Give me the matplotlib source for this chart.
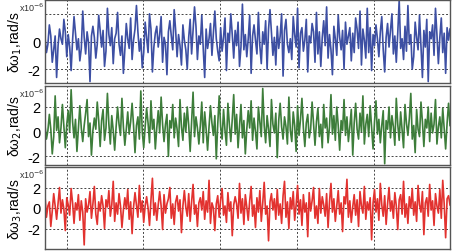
import numpy as np
import matplotlib.pyplot as plt

plt.rcParams['font.family'] = ['Liberation Sans', 'DejaVu Sans']

# ---------------- DATA (units of 1e-6 rad/s) ---------------- #

w1 = [0.3, -0.8, -0.2, 1.2, 0.4, -1.5, -0.6, 0.4, -2.6, -0.3, 0.9, 0.2, -0.2, 1.6, 0.7, -1.1, 0.5, -0.4, -2.1, 0.1,
      1.8, 0.6, -0.6, 0.2, -1.4, -0.5, 2.2, 0.3, -0.9, 0.7, -0.1, -2.9, 0.4, 1.1, 0.3, -1.2, -0.2, 1.9, 0.8, -0.4,
      0.8, -1.8, -0.7, 2.4, 0.5, -0.3, 1.0, -1.6, 0.2, 0.6, 2.1, -0.2, -1.0, 0.4, -2.3, -0.6, 1.3, 0.2, -0.5, 1.7,
      -1.3, 0.1, 0.9, 2.6, 0.7, -0.7, 0.2, -1.9, -0.8, 1.4, 0.3, -0.8, 2.0, 0.9, -2.2, -0.4, 0.6, 1.1, -0.4, 0.5,
      1.8, -1.5, 0.3, -0.2, -2.4, 0.7, 1.5, 0.4, -0.6, 2.3, 0.8, -1.1, 0.5, -0.3, -1.7, 1.2, 0.1, -0.6, -2.0, 0.3,
      1.6, -0.9, 0.8, 2.5, 1.1, -1.3, 0.4, -0.2, 1.9, -0.5, -2.6, 0.9, -0.5, 0.2, 1.3, -1.0, 0.6, 2.2, 0.2, -0.7,
      -1.4, 1.0, -0.7, 0.3, 1.7, -2.1, 0.6, 0.0, 2.0, 0.5, -1.2, 0.8, -0.3, 1.4, -1.8, -0.4, 2.7, -0.6, 0.5, -1.1,
      0.2, 1.9, -2.3, 0.4, 1.2, 0.1, -0.9, 2.1, -0.3, -1.6, 0.7, -0.2, 1.5, -2.0, 0.9, 2.3, 0.6, -1.0, 0.3, -1.7,
      1.1, -0.5, 0.4, 2.0, -2.5, 0.8, 1.6, -0.2, -0.8, 0.2, -1.3, 1.8, 0.5, -0.4, 2.4, -1.9, 0.6, 1.0, -0.7, 0.1,
      1.6, -2.2, 0.4, -0.1, 1.3, 0.7, -1.5, 2.1, -0.9, 0.7, -1.8, 0.3, 1.5, -0.3, 2.5, -1.2, 0.5, -0.6, -2.4, 1.1,
      0.2, -1.0, 1.9, 0.3, -0.6, 0.8, -2.0, 1.4, -0.2, 0.4, 1.0, -1.4, 0.6, -0.8, 1.7, 0.9, -0.5, 2.2, -1.7, 0.9,
      0.1, -1.2, 2.4, -0.8, 1.0, -2.1, 0.5, -0.3, 1.2, 0.2, -1.1, 0.7, 1.8, -0.6, -2.2, 0.3, 1.3, -0.4, 0.8, 2.0,
      -0.9, 0.4, -1.5, 0.6, 3.0, -0.5, 0.2, -1.3, 1.1, -0.7, 2.6, -0.2, 0.5, -2.0, -1.1, 1.4, 0.3, -0.6, 1.9, -0.3,
      -2.6, 0.8, -0.4, 1.6, -2.9, 0.7, 0.2, 1.2, -1.0, 2.4, 0.5, -1.6, 0.3, 1.7, -0.8, 0.6, -2.3, 1.0, 0.1, 0.9]

w2 = [0.5, -0.6, 0.1, 1.4, 0.2, -1.8, -0.4, 2.9, 0.1, 1.2, -0.9, 0.3, 2.2, 0.4, -1.3, 0.6, 1.7, 0.0, 3.4, 0.8,
      -0.5, 1.0, -1.6, 0.2, 2.1, 0.3, -0.8, 0.5, 1.5, 2.6, -0.4, 0.7, -1.9, 0.1, 1.1, 0.2, 2.4, 0.9, -1.2, 0.9,
      1.8, -0.7, 0.3, 3.1, 0.6, -1.0, 1.3, 0.1, -1.5, 0.4, 2.0, 0.6, -0.3, 2.7, 0.4, -1.1, 0.2, 1.6, -0.2, 0.8,
      2.3, 0.5, -1.7, 0.5, 1.2, -0.6, 3.3, 0.0, -1.3, 0.4, 1.9, 0.7, -0.9, 2.5, 0.2, 1.0, -1.4, 0.3, 1.7, -0.1,
      2.8, 0.6, -0.8, 0.6, 1.4, -2.0, 0.9, 0.3, 2.2, -0.5, 1.1, 0.2, -1.2, 2.6, 0.4, -0.7, 1.5, 0.0, 2.0, 0.5,
      -1.6, 0.8, 3.2, -0.4, 1.2, 0.3, -1.0, 0.5, 2.4, -0.9, 1.6, 0.2, -1.5, 0.4, 2.1, 0.7, -0.3, 1.3, -2.2, 0.6,
      2.9, 0.4, -0.6, 1.8, 0.1, -1.1, 2.3, 0.6, -0.8, 1.0, 3.0, -0.2, 1.4, -1.3, 0.5, 2.2, -0.5, 0.9, -1.8, 0.2,
      1.7, 0.3, 2.5, -0.7, 1.1, 0.0, -1.4, 2.0, 0.8, -0.4, 3.5, 0.5, -0.9, 1.3, 0.2, -1.2, 2.6, 0.6, -0.1, 1.5,
      -2.1, 0.9, 2.3, 0.4, -0.6, 1.2, 0.4, -1.0, 2.8, 0.1, -0.8, 1.6, 0.5, -1.6, 2.1, -0.3, 1.0, 2.7, 0.3, -1.2,
      0.7, 1.4, -0.5, 0.2, 2.4, 0.6, -1.1, 0.8, 1.9, -0.4, 0.6, -1.3, 2.2, 0.3, 1.1, -0.9, 0.4, 3.0, -0.2, 1.3,
      -0.7, 2.0, 0.5, -1.5, 0.9, 0.1, 2.6, -0.3, 1.2, -0.8, 0.4, 1.8, -1.9, 0.7, 2.3, 0.2, -0.6, 1.5, 0.0, 2.9,
      -1.0, 0.6, 1.4, -0.4, 2.1, 0.3, -1.4, 0.8, 2.5, -0.2, 1.0, -0.9, 0.5, 1.7, -2.6, 0.9, 0.2, 2.0, -0.5, 1.3,
      0.4, -1.1, 2.7, 0.6, -0.7, 1.6, 0.1, -1.3, 2.2, 0.7, -0.3, 1.1, 3.1, -0.6, 0.5, -1.7, 1.8, 0.2, -0.4, 2.4,
      0.8, -1.2, 1.0, 0.3, 2.0, -0.8, 1.5, -0.1, 0.6, 2.6, -1.0, 0.4, 1.2, -0.5, 1.9, 0.3, -1.4, 0.7, 2.3, 0.5]

w3 = [1.2, -0.9, 0.2, 0.6, -1.8, -0.3, 1.4, 0.2, -1.1, 0.4, 2.0, -0.5, 0.8, -0.1, -2.2, 1.0, 0.3, -0.7, 1.9, 0.5,
      -1.5, 0.5, -0.2, 1.3, -1.2, 0.7, -0.4, -3.6, 0.9, -0.4, 0.3, 1.6, -1.0, 0.4, 2.1, -0.6, -1.6, 0.6, -0.3, 1.2,
      0.2, -2.0, 0.8, 0.1, 1.7, -0.8, 0.3, 2.6, -1.3, 0.5, -0.6, 1.4, 0.2, -1.9, -0.2, 1.0, -0.1, 1.8, -1.1, 0.6,
      -2.5, 0.1, 1.5, 0.3, -0.9, 2.2, -0.4, 0.7, -1.4, 0.2, 1.1, 0.0, -1.7, 0.8, 2.9, -0.7, 0.5, -1.2, 0.3, 1.6,
      0.2, -2.1, 1.3, -0.5, 0.4, 0.9, 2.0, -1.0, 0.4, -1.6, 0.6, 1.2, -0.3, 0.8, -2.4, 0.2, 1.7, 0.1, -0.8, 1.4,
      -1.3, 0.6, 2.3, -0.6, 0.3, -1.8, 0.5, 1.0, -0.2, 1.6, -1.1, 0.7, -0.4, 2.7, -1.5, 0.5, 0.0, -2.2, 0.4, 1.2,
      -0.9, 0.8, 1.9, -0.7, 0.2, -1.4, 1.5, -0.3, 0.6, -2.7, 0.3, 1.1, 0.4, -1.0, 2.4, -0.5, 0.9, -1.6, 1.3, 0.1,
      -1.2, 0.7, 2.1, -0.8, 0.3, -1.9, 1.0, -0.4, 1.7, -1.3, 0.5, 2.5, -0.6, 0.2, -3.2, 0.6, 1.4, -0.2, 0.9, -1.1,
      1.8, -0.7, 0.4, -1.5, 1.2, 2.6, -0.9, 0.6, -2.0, 1.0, -0.1, 1.6, -1.2, 0.3, 2.2, -0.6, 0.8, -1.7, 1.3, -0.4,
      0.5, -2.8, 1.5, -0.3, 0.7, 2.0, -1.0, 0.2, -1.5, 1.9, -0.5, 1.1, 0.3, -0.8, 1.4, -1.9, 0.6, 2.4, -0.4, 0.9,
      -1.3, 0.2, 1.7, -0.6, 0.5, -2.3, 1.1, 0.4, 2.8, -0.9, 0.7, -1.4, 0.1, 1.3, -0.7, 0.8, -1.8, 1.6, 0.2, -0.5,
      2.1, -1.1, 0.6, -0.2, 1.0, -3.1, 0.5, 1.8, -0.4, 0.9, -1.2, 2.4, 0.3, -0.8, 1.2, -1.6, 0.4, 2.0, -0.3, 0.7,
      -1.0, 1.5, 0.2, -2.1, 0.8, 1.3, -0.6, 2.6, -0.9, 0.4, -1.5, 1.1, 0.0, 1.9, -0.7, 0.6, -1.3, 2.2, 0.3, -0.4,
      1.6, -2.6, 0.5, 1.0, -0.8, 2.3, -0.2, 0.7, -1.7, 1.4, 0.2, -0.5, 1.8, -1.0, 2.7, 0.4, -2.9, 0.9, 1.2, 0.3]

series = [w1, w2, w3]
colors = ['#3d4fa3', '#3d7d3a', '#e2322f']
ylabels = ['δω$_1$,rad/s', 'δω$_2$,rad/s', 'δω$_3$,rad/s']
ylims = [(-3.0, 3.0), (-2.7, 3.7), (-4.0, 4.0)]
yticks = [[-2, 0], [-2, 0, 2], [-2, 0, 2]]

# panel boxes in pixels (top, bottom) of a 454x253 picture
boxes = [(1, 84), (87, 166), (168, 250)]
W, H = 454, 253
x_left, x_right = 45, 450
grid_frac = [0.054, 0.242, 0.432, 0.622, 0.812, 1.0]

# ---------------- PLOT ---------------- #

fig = plt.figure(figsize=(W / 100, H / 100), dpi=100)

for vals, col, lab, lim, ticks, (top, bot) in zip(series, colors, ylabels, ylims, yticks, boxes):
    ax = fig.add_axes([x_left / W, 1 - bot / H, (x_right - x_left) / W, (bot - top) / H])
    n = len(vals)
    t = np.arange(n)
    ax.plot(t, vals, color=col, lw=1.2)
    ax.set_xlim(0, n - 1)
    ax.set_ylim(*lim)
    ax.set_xticks([(n - 1) * f for f in grid_frac])
    ax.set_xticklabels([])
    ax.set_yticks([-2, 0, 2])
    ax.set_yticklabels([str(v) if v in ticks else '' for v in [-2, 0, 2]], fontsize=10.5)
    ax.tick_params(length=0, pad=3)
    ax.grid(True, color='#444444', lw=0.7, ls=(0, (2, 2)))
    for s in ax.spines.values():
        s.set_color('#555555')
        s.set_linewidth(1.0)
    ax.set_ylabel(lab, fontsize=10, labelpad=3)
    ax.text(0.0, 0.995, 'x10$^{-6}$', transform=ax.transAxes, fontsize=6.5,
            ha='right', va='top', color='#333333')

fig.savefig('out.png', dpi=100)
